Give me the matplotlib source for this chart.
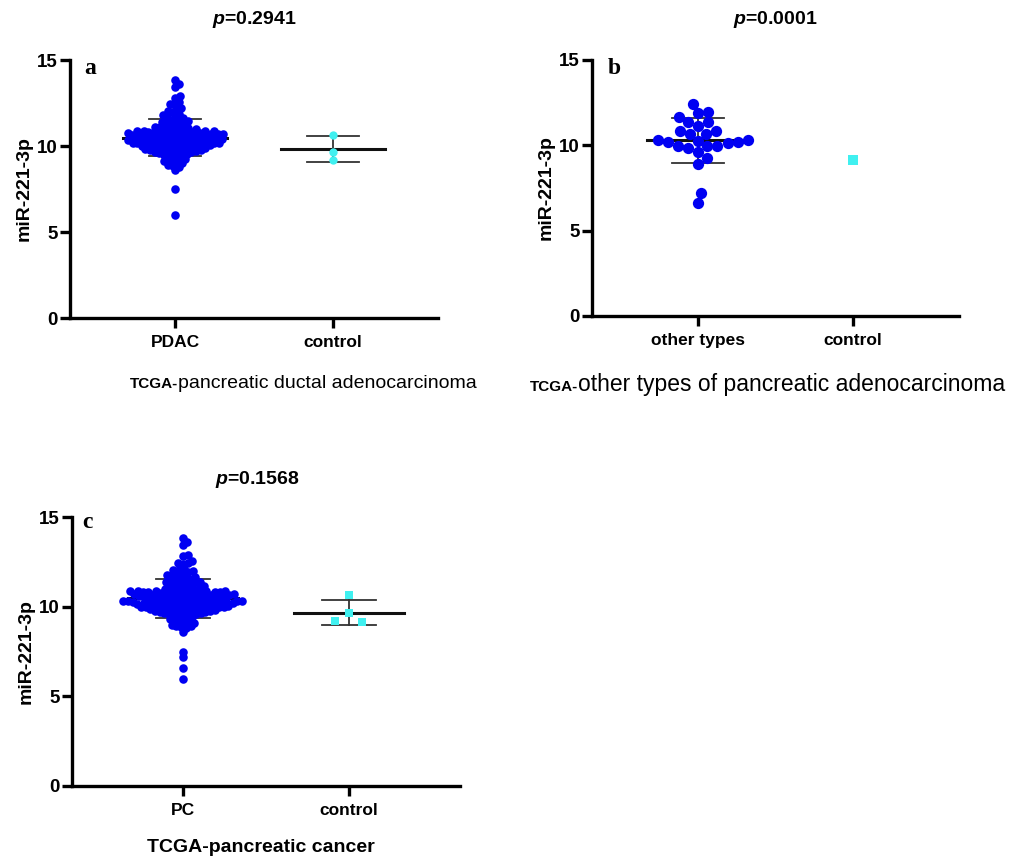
import matplotlib
matplotlib.use('Agg')
import matplotlib.pyplot as plt
import numpy as np

plt.rcParams['font.family'] = 'Liberation Sans'
plt.rcParams['mathtext.fontset'] = 'custom'
plt.rcParams['mathtext.it'] = 'Liberation Sans:italic:bold'
plt.rcParams['mathtext.rm'] = 'Liberation Sans:bold'

W, H = 1028, 861

# ---- data (miR-221-3p expression) ----
pdac = [13.82, 13.6, 13.42, 12.9, 12.8, 12.55, 12.45, 12.38, 12.2, 12.1, 12.02, 11.95,
        11.85, 11.78, 11.7, 11.65, 11.6, 11.55, 11.5, 11.45, 11.4,
        11.35, 11.3, 11.25, 11.2, 11.15, 11.1, 11.08, 11.05, 11.02,
        10.98, 10.95, 10.93, 10.9, 10.9, 10.88, 10.86, 10.85, 10.83, 10.82, 10.8, 10.8,
        10.78, 10.77, 10.75, 10.74, 10.72, 10.7, 10.7, 10.68, 10.67, 10.65, 10.64, 10.62,
        10.6, 10.6, 10.58, 10.57, 10.55, 10.54, 10.52, 10.5, 10.5, 10.48, 10.47, 10.45,
        10.44, 10.42, 10.4, 10.4, 10.38, 10.37, 10.35, 10.33, 10.32, 10.3, 10.3, 10.28,
        10.26, 10.25, 10.23, 10.22, 10.2, 10.2, 10.18, 10.16, 10.15, 10.13, 10.12, 10.1,
        10.08, 10.06, 10.05, 10.03, 10.02, 10.0, 9.98, 9.96, 9.95, 9.93, 9.9, 9.88, 9.86,
        9.85, 9.82, 9.8, 9.78, 9.76, 9.74, 9.72, 9.7, 9.68, 9.65, 9.62, 9.6, 9.57, 9.55,
        9.5, 9.45, 9.4, 9.35, 9.3, 9.22, 9.15, 9.1, 9.05, 9.0, 8.92, 8.85, 8.8, 8.6,
        7.48, 5.97]
ctrl_a = [10.64, 9.67, 9.19]

other = [12.42, 11.97, 11.87, 11.68, 11.35, 11.13, 11.35, 10.82, 10.86, 10.66, 10.66,
         10.27, 10.18, 10.18, 10.31, 10.31, 9.96, 9.96, 10.12, 9.96, 9.82, 9.63, 9.24,
         8.90, 7.19, 6.60]
ctrl_b = [9.14]

pc = pdac + other
ctrl_c = ctrl_a + ctrl_b

titles = [r'$p$=0.2941', r'$p$=0.0001', r'$p$=0.1568']
cats_a = ['PDAC', 'control']
cats_b = ['other types', 'control']
cats_c = ['PC', 'control']

BLUE = '#0000f2'
CYAN = '#40f0f0'


def px_rect(l, r, t, b):
    return [l / W, 1 - b / H, (r - l) / W, (b - t) / H]


def swarm_offsets(ypx, d, descending=False):
    xs = np.zeros(len(ypx))
    px_, py_ = [], []
    order = np.argsort(ypx)
    if descending:
        order = order[::-1]
    flip = 1
    for i in order:
        y = ypx[i]
        cands = [0.0]
        for a, b in zip(px_, py_):
            dy = abs(y - b)
            if dy < d:
                dx = np.sqrt(d * d - dy * dy)
                cands += [a + dx, a - dx]
        cands.sort(key=lambda c: (round(abs(c), 2), flip * c))
        best = 0.0
        for c in cands:
            if all((c - a) ** 2 + (y - b) ** 2 >= d * d - 1e-6 for a, b in zip(px_, py_)):
                best = c
                break
        flip = -flip
        xs[i] = best
        px_.append(best)
        py_.append(y)
    return xs


def draw_group(ax, vals, xc, marker, color, size, d, descending=False):
    vals = np.array(vals)
    t = ax.transData
    ypx = t.transform(np.column_stack([np.full(len(vals), xc), vals]))[:, 1]
    xunit = t.transform((1, 0))[0] - t.transform((0, 0))[0]
    xs = xc + swarm_offsets(ypx, d, descending) / xunit
    ax.scatter(xs, vals, s=size, marker=marker, color=color, linewidths=0,
               zorder=3, clip_on=False)
    if len(vals) > 1:
        m, sd = vals.mean(), vals.std(ddof=1)
        ax.plot([xc - 0.33, xc + 0.33], [m, m], color='#111111', lw=2.2, zorder=2)
        ax.plot([xc - 0.165, xc + 0.165], [m + sd, m + sd], color='#333333', lw=1.3, zorder=2)
        ax.plot([xc - 0.165, xc + 0.165], [m - sd, m - sd], color='#333333', lw=1.3, zorder=2)
        ax.plot([xc, xc], [m - sd, m + sd], color='#333333', lw=1.3, zorder=2)


def style(ax, cats, pad_frac, cat_size=12.5):
    ax.set_xlim(-pad_frac, 1 + pad_frac)
    ax.set_ylim(0, 15)
    ax.set_yticks([0, 5, 10, 15])
    ax.set_xticks([0, 1])
    ax.set_xticklabels(cats, fontweight='bold', fontsize=cat_size)
    for lab in ax.get_yticklabels():
        lab.set_fontweight('bold')
        lab.set_fontsize(13.5)
    for s in ['top', 'right']:
        ax.spines[s].set_visible(False)
    for s in ['left', 'bottom']:
        ax.spines[s].set_linewidth(2.4)
    ax.tick_params(axis='y', direction='out', length=7, width=2.4, pad=2)
    ax.tick_params(axis='x', direction='out', length=7, width=2.4, pad=5)
    ax.set_ylabel('miR-221-3p', fontweight='bold', fontsize=14, labelpad=3)


fig = plt.figure(figsize=(W / 100, H / 100), dpi=100)

ax_a = fig.add_axes(px_rect(70, 438, 60, 318))
ax_b = fig.add_axes(px_rect(592, 959, 60, 316))
ax_c = fig.add_axes(px_rect(72, 460, 517, 786))

style(ax_a, cats_a, 0.665)
style(ax_b, cats_b, 0.684)
style(ax_c, cats_c, 0.669)

draw_group(ax_a, pdac, 0, 'o', BLUE, 38, 4.9)
draw_group(ax_a, ctrl_a, 1, 'o', CYAN, 36, 7)
draw_group(ax_b, other, 0, 'o', BLUE, 66, 10.5)
draw_group(ax_b, ctrl_b, 1, 's', CYAN, 60, 9)
draw_group(ax_c, pc, 0, 'o', BLUE, 38, 4.9)
draw_group(ax_c, ctrl_c, 1, 's', CYAN, 40, 16, descending=True)

# titles
fig.text(254 / W, 1 - 19 / H, titles[0], fontsize=14, fontweight='bold', ha='center', va='center')
fig.text(775 / W, 1 - 19 / H, titles[1], fontsize=14, fontweight='bold', ha='center', va='center')
fig.text(257 / W, 1 - 479 / H, titles[2], fontsize=14, fontweight='bold', ha='center', va='center')

# panel letters
for lbl, (x, y) in zip('abc', [(90, 68), (614, 68), (87, 522)]):
    fig.text(x / W, 1 - y / H, lbl, family='Liberation Serif', fontweight='bold',
             fontsize=17, ha='center', va='center')

# x axis captions
fig.text(178 / W, 1 - 388 / H, 'TCGA-', fontsize=11, fontweight='bold', ha='right', va='baseline')
fig.text(178 / W, 1 - 388 / H, 'pancreatic ductal adenocarcinoma', fontsize=14,
         ha='left', va='baseline')
fig.text(578 / W, 1 - 391 / H, 'TCGA-', fontsize=11, fontweight='bold', ha='right', va='baseline')
fig.text(578 / W, 1 - 391 / H, 'other types of pancreatic adenocarcinoma', fontsize=16.5,
         ha='left', va='baseline')
fig.text(261 / W, 1 - 848 / H, 'TCGA-pancreatic cancer', fontsize=14, fontweight='bold',
         ha='center', va='center')

fig.savefig('out.png', dpi=100)
